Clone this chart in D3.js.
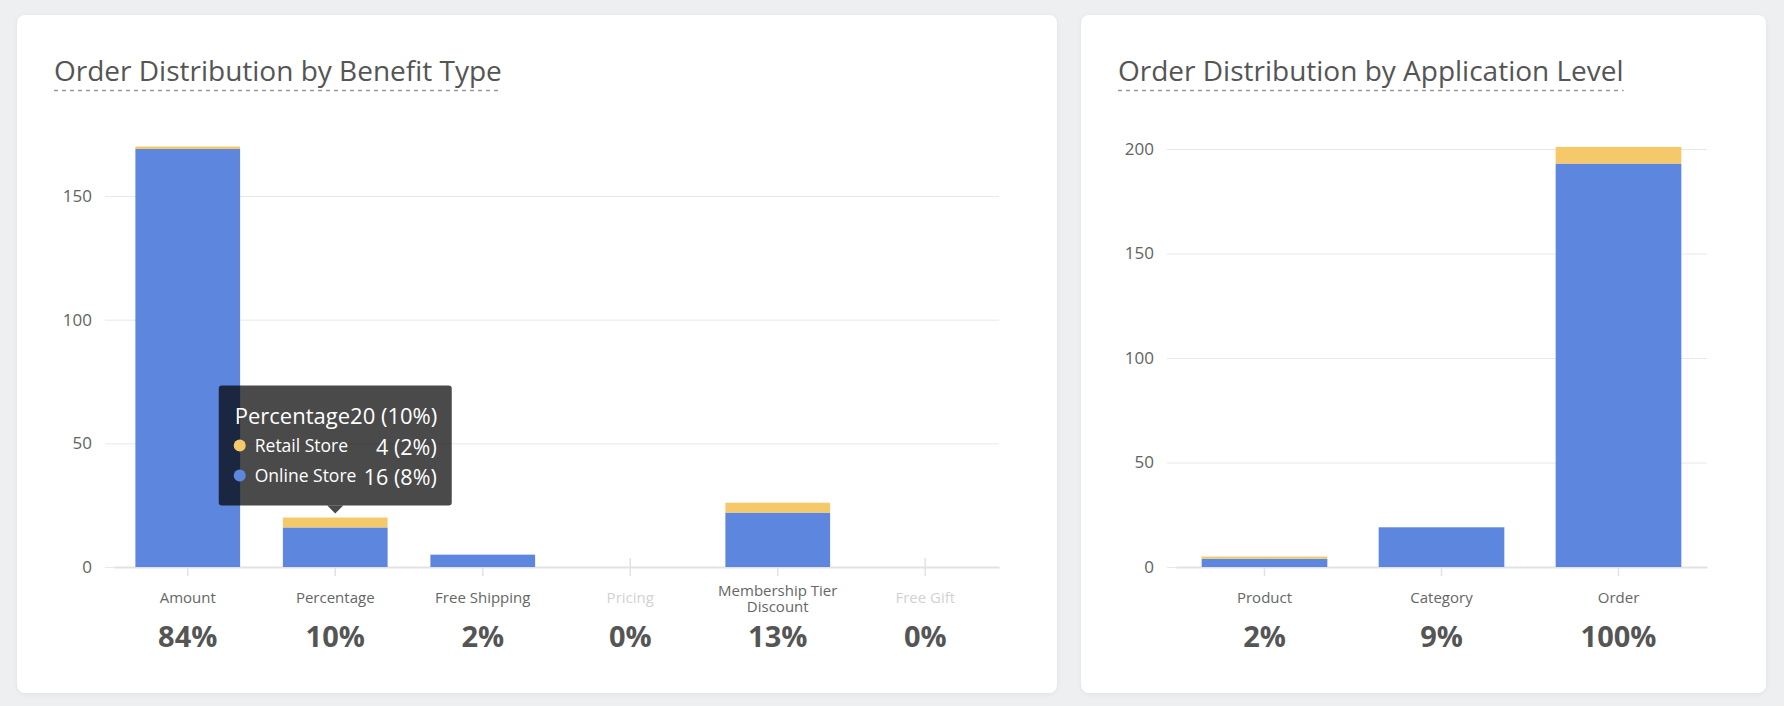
<!DOCTYPE html>
<html lang="en">
<head>
<meta charset="UTF-8">
<title>Order Distribution</title>
<script src="https://cdn.jsdelivr.net/npm/d3@7"></script>
<style>
    body { margin: 0; background: #eeeff1; }
    svg text { font-family: "Open Sans", sans-serif; }
    .card { fill: #fff; filter: drop-shadow(0 1px 2px rgba(0,0,0,0.06)); }
    .title { font-size: 28px; fill: #555; }
    .underline { stroke: #999; stroke-width: 1.5; stroke-dasharray: 4 4; }
    .grid line { stroke: #e8e8e8; stroke-width: 1; }
    .grid text { font-size: 17px; fill: #636363; }
    .xaxis path { stroke: #e2e2e2; stroke-width: 2; }
    .xaxis line { stroke: #e2e2e2; stroke-width: 1.5; }
    .cat { font-size: 15px; fill: #666; text-anchor: middle; }
    .cat.off { fill: #d2d2d2; }
    .pct { font-size: 29px; font-weight: 700; fill: #555; text-anchor: middle; }
    .tip text { fill: #fff; }
</style>
</head>
<body>
<script>
    var w = 1784;
    var h = 706;

    // orders used as 100% for all the percentages
    var totalOrders = 202;
    var seriesNames = ['Online Store', 'Retail Store'];
    var seriesColors = ['#5d87de', '#f5c96a'];

    // left chart
    var benefitTypes = ['Amount', 'Percentage', 'Free Shipping', 'Pricing', 'Membership Tier Discount', 'Free Gift'];
    var benefitOnline = [169, 16, 5, 0, 22, 0];
    var benefitRetail = [1, 4, 0, 0, 4, 0];
    var benefitTicks = [0, 50, 100, 150];

    // right chart
    var levels = ['Product', 'Category', 'Order'];
    var levelOnline = [4, 19, 193];
    var levelRetail = [1, 0, 8];
    var levelTicks = [0, 50, 100, 150, 200];

    var baseY = 567;

    var svg = d3.select('body')
                .append('svg')
                .attr('width', w)
                .attr('height', h);

    function pct(v) {
        return Math.round(v / totalOrders * 100) + '%';
    }

    function drawChart(cfg) {
        var g = svg.append('g');

        //card and title
        g.append('rect')
            .attr('class', 'card')
            .attr('x', cfg.card[0])
            .attr('y', 15)
            .attr('width', cfg.card[1] - cfg.card[0])
            .attr('height', 678)
            .attr('rx', 8);

        var tx = cfg.card[0] + 37;
        var title = g.append('text')
            .attr('class', 'title')
            .attr('x', tx)
            .attr('y', 81)
            .text(cfg.title);
        var tw = title.node().getComputedTextLength();
        g.append('line')
            .attr('class', 'underline')
            .attr('x1', tx).attr('x2', tx + tw)
            .attr('y1', 90.5).attr('y2', 90.5);

        var rows = cfg.cats.map(function(c, i) {
            return { cat: c, online: cfg.online[i], retail: cfg.retail[i] };
        });
        var stacked = d3.stack().keys(['online', 'retail'])(rows);

        //scales
        var xScale = d3.scaleBand()
                        .domain(cfg.cats)
                        .range(cfg.xRange)
                        .paddingInner(0.29)
                        .paddingOuter(0.145);

        var yScale = d3.scaleLinear()
                        .domain([0, cfg.ticks[cfg.ticks.length - 1]])
                        .range([baseY, cfg.yTop]);

        //gridlines + y labels
        var yAxis = g.append('g')
            .attr('class', 'grid')
            .attr('transform', 'translate(' + cfg.gridLeft + ',0)')
            .call(d3.axisLeft(yScale)
                    .tickValues(cfg.ticks)
                    .tickSize(-(cfg.xRange[1] - cfg.gridLeft))
                    .tickPadding(13));
        yAxis.select('.domain').remove();

        //x axis line and ticks
        var xAxis = g.append('g')
            .attr('class', 'xaxis')
            .attr('transform', 'translate(0,' + baseY + ')')
            .call(d3.axisBottom(xScale).tickSize(9).tickSizeOuter(0).tickFormat(''));
        xAxis.selectAll('.tick line').attr('y1', -9);

        //bars
        g.selectAll('g.layer')
            .data(stacked)
            .enter()
            .append('g')
            .attr('fill', function(d, i) { return seriesColors[i]; })
            .selectAll('rect')
            .data(function(d) { return d; })
            .enter()
            .append('rect')
            .attr('x', function(d) { return xScale(d.data.cat); })
            .attr('width', xScale.bandwidth())
            .attr('y', function(d) { return yScale(d[1]); })
            .attr('height', function(d) { return yScale(d[0]) - yScale(d[1]); });

        //category labels, long ones wrap on the last word
        rows.forEach(function(r) {
            var cx = xScale(r.cat) + xScale.bandwidth() / 2;
            var total = r.online + r.retail;
            var lines = [r.cat];
            if (r.cat.length > 16) {
                var words = r.cat.split(' ');
                lines = [words.slice(0, -1).join(' '), words[words.length - 1]];
            }
            var t = g.append('text')
                .attr('class', total > 0 ? 'cat' : 'cat off')
                .attr('x', cx)
                .attr('y', lines.length > 1 ? 596 : 603);
            lines.forEach(function(l, i) {
                t.append('tspan').attr('x', cx).attr('dy', i ? 16 : 0).text(l);
            });

            g.append('text')
                .attr('class', 'pct')
                .attr('x', cx)
                .attr('y', 647)
                .text(pct(total));
        });

        //hover tooltip
        if (cfg.tip) {
            var idx = cfg.cats.indexOf(cfg.tip);
            var on = cfg.online[idx], re = cfg.retail[idx];
            var cx = xScale(cfg.tip) + xScale.bandwidth() / 2;
            var tipY = yScale(on + re) - 4;
            var bw = 233, bh = 120;
            var bx = cx - bw / 2, by = tipY - 8 - bh;
            var tip = g.append('g').attr('class', 'tip');
            tip.append('rect')
                .attr('x', bx).attr('y', by)
                .attr('width', bw).attr('height', bh)
                .attr('rx', 3)
                .attr('fill', 'rgba(0,0,0,0.71)');
            tip.append('path')
                .attr('d', 'M' + (cx - 8) + ',' + (by + bh) + 'L' + cx + ',' + tipY + 'L' + (cx + 8) + ',' + (by + bh) + 'Z')
                .attr('fill', 'rgba(0,0,0,0.71)');
            tip.append('text')
                .attr('x', bx + 16).attr('y', by + 38)
                .attr('font-size', 22)
                .text(cfg.tip + (on + re) + ' (' + pct(on + re) + ')');
            var tipRows = [[seriesNames[1], re, seriesColors[1]], [seriesNames[0], on, seriesColors[0]]];
            tipRows.forEach(function(r, i) {
                var ry = by + 60 + i * 30;
                tip.append('circle').attr('cx', bx + 21).attr('cy', ry).attr('r', 6).attr('fill', r[2]);
                tip.append('text')
                    .attr('x', bx + 36).attr('y', ry + 6)
                    .attr('font-size', 17.5)
                    .text(r[0]);
                tip.append('text')
                    .attr('x', bx + bw - 15).attr('y', ry + 9)
                    .attr('font-size', 21.5)
                    .attr('text-anchor', 'end')
                    .text(r[1] + ' (' + pct(r[1]) + ')');
            });
        }
    }

    drawChart({
        card: [17, 1057],
        title: 'Order Distribution by Benefit Type',
        cats: benefitTypes,
        online: benefitOnline,
        retail: benefitRetail,
        ticks: benefitTicks,
        xRange: [114, 999],
        gridLeft: 105,
        yTop: 196,
        tip: 'Percentage'
    });

    drawChart({
        card: [1081, 1766],
        title: 'Order Distribution by Application Level',
        cats: levels,
        online: levelOnline,
        retail: levelRetail,
        ticks: levelTicks,
        xRange: [1176, 1707],
        gridLeft: 1167,
        yTop: 149
    });
</script>
</body>
</html>
